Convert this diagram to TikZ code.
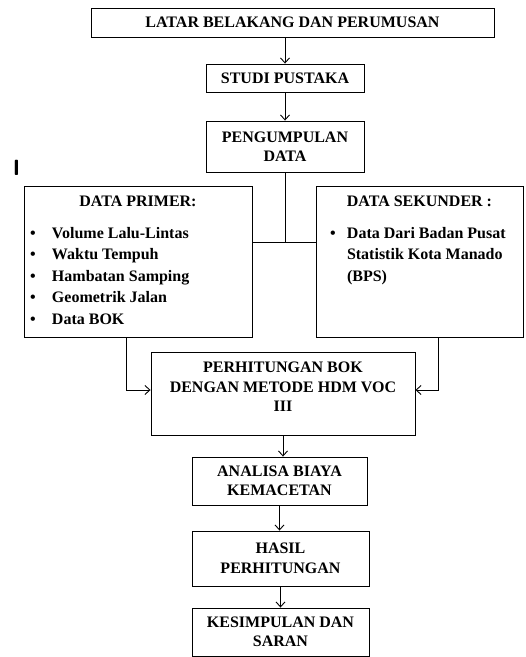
\documentclass[tikz,border=0pt]{standalone}
\usepackage{fontspec}
\setmainfont{Liberation Serif}
\usetikzlibrary{arrows.meta}
\tikzset{>={Straight Barb[length=5pt,width=9pt]}}
\tikzset{ % box and line options
  kotak/.style={draw, line width=0.9pt, align=center, inner sep=0pt,
    font=\bfseries\fontsize{16}{19.5}\selectfont},
  garis/.style={line width=0.9pt}
}
\newcommand{\butir}[1]{\hspace*{6pt}\makebox[22pt][l]{\textbullet}#1\par}

\begin{document}
\begin{tikzpicture}[x=1pt, y=-1pt]
\useasboundingbox (0,0) rectangle (526,657);
% main column
\node[kotak, minimum width=403pt, minimum height=29pt] (latar) at (292.5,22.5) {LATAR BELAKANG DAN PERUMUSAN};
\node[kotak, minimum width=158pt, minimum height=28pt] (studi) at (285,78) {STUDI PUSTAKA};
\node[kotak, minimum width=158pt, minimum height=51pt] (kumpul) at (285,146.5) {PENGUMPULAN\\DATA};
\node[font=\sffamily\bfseries\fontsize{22}{22}\selectfont] (tanda) at (16.5,168) {I};
% data boxes
\node[kotak] (primer) at (138,261.5) {\parbox[c][151pt][t]{228pt}{\fontsize{16}{21.5}\selectfont
  \vspace*{10pt}{\centering DATA PRIMER:\par}\vspace{10pt}
  \butir{Volume Lalu-Lintas}
  \butir{Waktu Tempuh}
  \butir{Hambatan Samping}
  \butir{Geometrik Jalan}
  \butir{Data BOK}}};
\node[kotak] (sekunder) at (419.5,261.5) {\parbox[c][151pt][t]{207pt}{\fontsize{16}{21.5}\selectfont
  \vspace*{10pt}{\centering DATA SEKUNDER :\par}\vspace{10pt}
  \hspace*{14pt}\makebox[17pt][l]{\textbullet}Data Dari Badan Pusat\par
  \hspace*{31pt}Statistik Kota Manado\par
  \hspace*{31pt}(BPS)\par}};
\node[kotak, minimum width=264pt, minimum height=83pt] (hitung) at (283,393.5) {PERHITUNGAN BOK\\DENGAN METODE HDM VOC\\III\\[-6pt]\mbox{}};
\node[kotak, minimum width=175pt, minimum height=48pt] (analisa) at (279.5,481) {ANALISA BIAYA\\KEMACETAN};
\node[kotak, minimum width=177pt, minimum height=55pt] (hasil) at (280.5,558.5) {HASIL\\PERHITUNGAN};
\node[kotak, minimum width=177pt, minimum height=48pt] (simpul) at (280.5,632) {KESIMPULAN DAN\\SARAN};
% connectors
\coordinate (cabang) at (285,242);
\draw[garis, ->] (latar.south -| studi.north) -- (studi.north);
\draw[garis, ->] (studi.south) -- (kumpul.north);
\draw[garis] (kumpul.south) -- (cabang);
\draw[garis] (primer.east |- cabang) -- (sekunder.west |- cabang);
\draw[garis, ->] ([xshift=-12pt]primer.south) |- ([yshift=3.5pt]hitung.west);
\draw[garis, ->] ([xshift=18.5pt]sekunder.south) |- ([yshift=3.5pt]hitung.east);
\draw[garis, ->] (hitung.south) -- (hitung.south |- analisa.north);
\draw[garis, ->] (analisa.south) -- (analisa.south |- hasil.north);
\draw[garis, ->] (hasil.south) -- (hasil.south |- simpul.north);
\end{tikzpicture}
\end{document}
